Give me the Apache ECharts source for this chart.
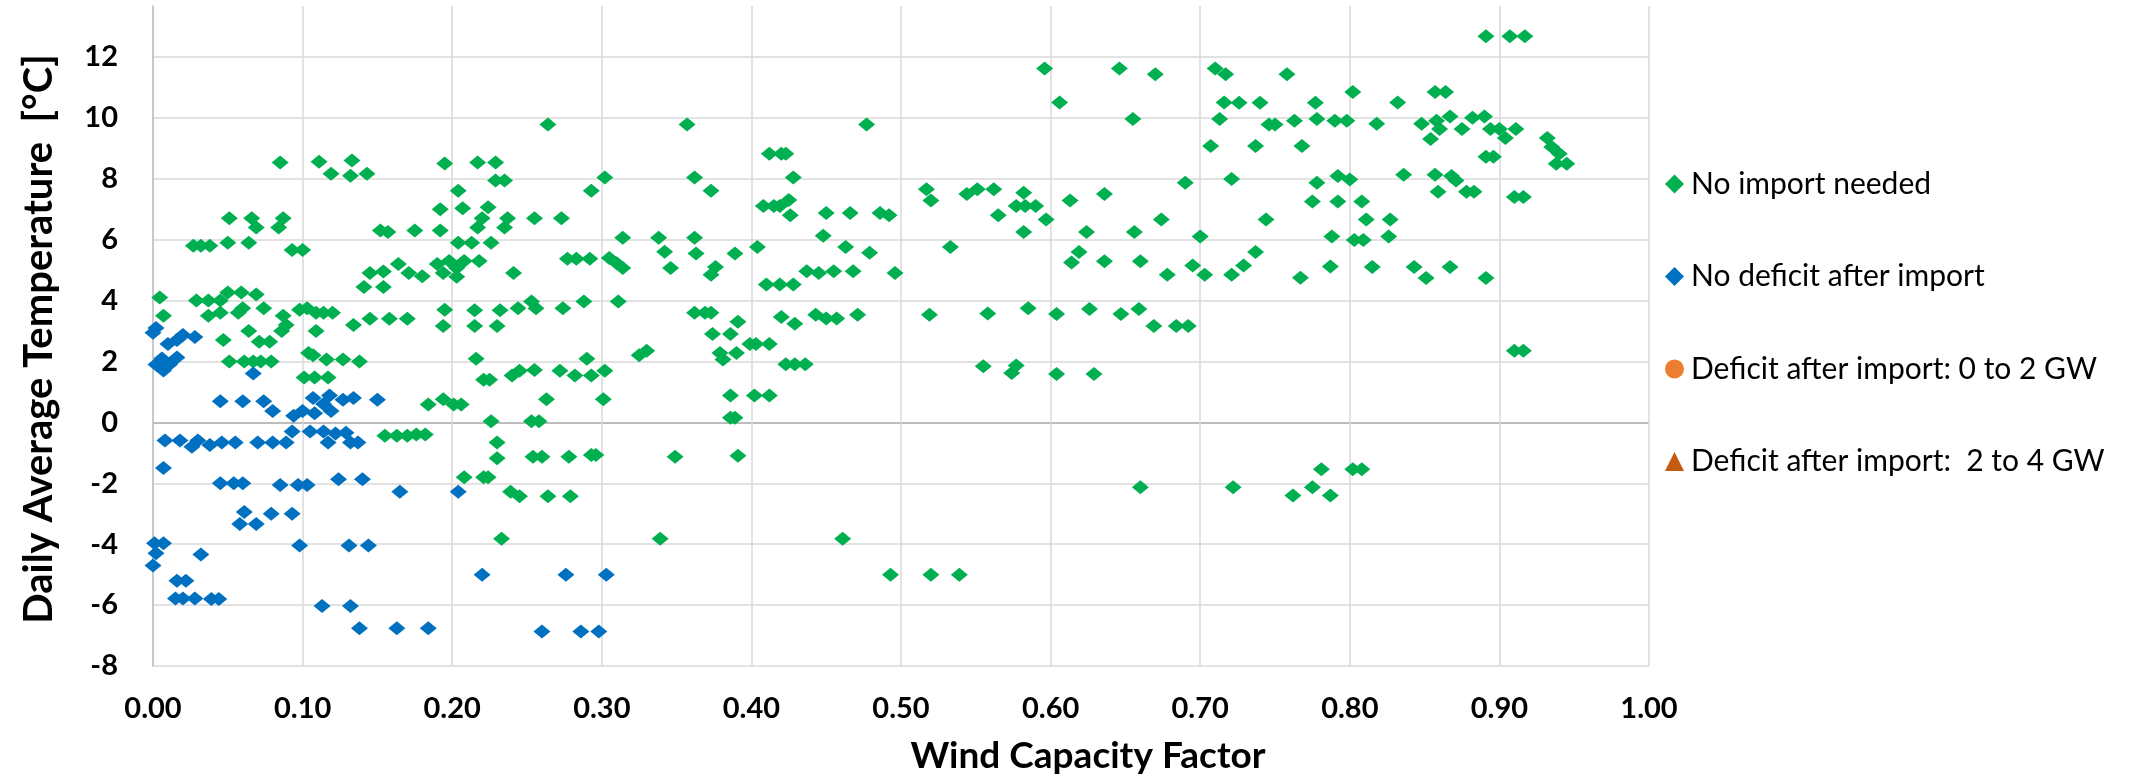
<!DOCTYPE html>
<html>
<head>
<meta charset="utf-8">
<script src="https://cdn.jsdelivr.net/npm/echarts@6/dist/echarts.min.js"></script>
<style>
html,body{margin:0;padding:0;background:#fff;}
#chart{width:2141px;height:775px;}
</style>
</head>
<body>
<div id="chart"></div>
<script>
// ---- data (x = wind capacity factor, y = daily average temperature) ----
const seriesNames = ['No import needed', 'No deficit after import', 'Deficit after import: 0 to 2 GW', 'Deficit after import:  2 to 4 GW'];
const xTickLabels = ['0.00','0.10','0.20','0.30','0.40','0.50','0.60','0.70','0.80','0.90','1.00'];
const yTickLabels = ['-8','-6','-4','-2','0','2','4','6','8','10','12'];

const noImportNeeded = [
[0.085,8.53],[0.111,8.56],[0.119,8.16],[0.133,8.6],[0.132,8.1],[0.143,8.16],[0.195,8.5],
[0.051,6.7],[0.066,6.7],[0.069,6.4],[0.087,6.7],[0.084,6.4],[0.064,5.9],[0.027,5.8],[0.032,5.8],[0.038,5.8],[0.050,5.9],[0.093,5.66],[0.100,5.66],
[0.152,6.3],[0.157,6.25],[0.175,6.3],[0.192,7.0],[0.192,6.3],
[0.145,4.9],[0.154,4.95],[0.164,5.2],[0.171,4.9],[0.180,4.8],[0.141,4.44],[0.154,4.44],[0.190,5.2],[0.194,4.9],
[0.0045,4.1],[0.007,3.5],[0.029,4.0],[0.037,4.0],[0.045,4.0],[0.050,4.26],[0.059,4.26],[0.069,4.2],
[0.037,3.5],[0.045,3.6],[0.057,3.6],[0.060,3.75],[0.074,3.75],[0.087,3.5],[0.086,3.0],[0.089,3.2],[0.064,3.0],[0.047,2.7],[0.071,2.65],[0.078,2.65],
[0.098,3.7],[0.103,3.75],[0.109,3.6],[0.109,3.0],[0.114,3.6],[0.120,3.6],[0.134,3.2],[0.145,3.4],[0.158,3.4],[0.170,3.4],[0.195,3.7],[0.194,3.16],
[0.051,2.0],[0.061,2.0],[0.067,2.0],[0.072,2.0],[0.079,2.0],[0.104,2.28],[0.107,2.2],[0.116,2.06],[0.127,2.06],[0.138,2.0],
[0.101,1.47],[0.108,1.47],[0.117,1.47],[0.184,0.59],[0.194,0.76],
[0.155,-0.44],[0.163,-0.44],[0.170,-0.44],[0.176,-0.4],[0.182,-0.4],
[0.264,9.78],[0.357,9.78],[0.217,8.53],[0.229,8.53],[0.204,7.6],[0.229,7.94],[0.235,7.94],[0.302,8.04],[0.293,7.6],[0.362,8.04],[0.373,7.6],
[0.207,7.03],[0.224,7.06],[0.220,6.7],[0.217,6.4],[0.237,6.7],[0.235,6.4],[0.255,6.7],[0.273,6.7],
[0.204,5.9],[0.213,5.9],[0.226,5.9],[0.314,6.06],[0.338,6.06],[0.362,6.06],[0.342,5.6],[0.363,5.54],[0.389,5.54],[0.346,5.07],[0.376,5.1],[0.373,4.85],
[0.198,5.3],[0.203,5.07],[0.203,4.78],[0.208,5.3],[0.218,5.3],[0.241,4.9],[0.277,5.37],[0.283,5.37],[0.292,5.37],[0.305,5.4],[0.310,5.22],[0.314,5.07],
[0.215,3.68],[0.215,3.16],[0.232,3.68],[0.230,3.16],[0.244,3.75],[0.253,3.97],[0.256,3.75],[0.274,3.75],[0.288,3.97],[0.311,3.97],
[0.362,3.6],[0.369,3.6],[0.373,3.6],[0.374,2.9],[0.386,2.9],[0.391,3.3],[0.379,2.28],[0.381,2.06],[0.390,2.28],
[0.216,2.09],[0.221,1.4],[0.225,1.4],[0.240,1.54],[0.245,1.69],[0.255,1.72],[0.272,1.69],[0.282,1.54],[0.290,2.09],[0.293,1.54],[0.302,1.69],[0.325,2.2],[0.330,2.35],
[0.201,0.59],[0.206,0.59],[0.263,0.76],[0.301,0.76],[0.386,0.88],
[0.226,0.04],[0.253,0.04],[0.258,0.04],[0.386,0.15],[0.389,0.15],
[0.230,-0.66],[0.230,-1.18],[0.254,-1.13],[0.260,-1.13],[0.278,-1.13],[0.293,-1.07],[0.296,-1.07],[0.349,-1.13],[0.391,-1.1],
[0.208,-1.8],[0.221,-1.8],[0.224,-1.8],[0.239,-2.28],[0.245,-2.43],[0.264,-2.43],[0.279,-2.43],[0.233,-3.82],[0.339,-3.82],
[0.477,9.78],[0.412,8.82],[0.420,8.82],[0.423,8.82],[0.428,8.04],[0.408,7.1],[0.415,7.1],[0.419,7.1],[0.425,7.3],[0.426,6.8],[0.450,6.87],[0.466,6.87],[0.486,6.87],[0.492,6.8],[0.448,6.13],
[0.404,5.76],[0.463,5.76],[0.479,5.57],[0.410,4.53],[0.419,4.53],[0.428,4.53],[0.437,4.96],[0.445,4.9],[0.455,4.96],[0.468,4.96],[0.496,4.9],
[0.399,2.57],[0.403,2.57],[0.412,2.57],
[0.420,3.46],[0.429,3.24],[0.443,3.53],[0.450,3.41],[0.457,3.41],[0.471,3.53],
[0.423,1.91],[0.429,1.91],[0.436,1.91],[0.402,0.88],[0.412,0.88],
[0.461,-3.82],[0.493,-5.0],[0.520,-5.0],[0.539,-5.0],
[0.517,7.65],[0.520,7.28],[0.544,7.5],[0.551,7.65],[0.562,7.65],[0.565,6.8],[0.577,7.1],[0.582,7.54],[0.583,7.1],[0.582,6.25],
[0.533,5.76],[0.519,3.53],[0.558,3.57],[0.585,3.75],[0.555,1.84],[0.574,1.62],[0.577,1.87],
[0.596,11.62],[0.606,10.5],[0.646,11.62],[0.670,11.43],[0.655,9.96],[0.710,11.62],[0.717,11.43],[0.758,11.43],[0.716,10.5],[0.726,10.49],[0.740,10.49],[0.777,10.49],[0.713,9.96],[0.746,9.78],[0.750,9.78],[0.763,9.9],[0.778,9.96],[0.707,9.07],[0.737,9.07],[0.768,9.07],
[0.721,7.99],[0.690,7.87],[0.778,7.87],[0.775,7.25],[0.590,7.1],[0.597,6.66],[0.613,7.28],[0.636,7.5],[0.624,6.25],[0.656,6.25],[0.674,6.66],[0.700,6.1],[0.744,6.66],
[0.614,5.25],[0.619,5.59],[0.636,5.29],[0.660,5.29],[0.678,4.85],[0.695,5.15],[0.703,4.85],[0.721,4.85],[0.729,5.15],[0.737,5.59],[0.767,4.75],
[0.604,3.56],[0.626,3.72],[0.647,3.56],[0.659,3.72],[0.669,3.16],[0.684,3.16],[0.692,3.16],[0.604,1.59],[0.629,1.59],
[0.660,-2.13],[0.722,-2.13],[0.762,-2.4],[0.775,-2.13],[0.781,-1.54],
[0.891,12.68],[0.907,12.68],[0.917,12.68],[0.802,10.85],[0.832,10.5],[0.857,10.85],[0.864,10.85],
[0.790,9.9],[0.798,9.9],[0.818,9.8],[0.848,9.8],[0.858,9.9],[0.860,9.63],[0.867,10.04],[0.854,9.3],[0.875,9.63],[0.882,10.0],[0.890,10.04],[0.894,9.63],[0.900,9.63],[0.904,9.34],[0.911,9.63],[0.891,8.72],[0.896,8.72],
[0.932,9.34],[0.935,9.04],[0.940,8.82],[0.938,8.49],[0.945,8.49],
[0.792,8.09],[0.800,7.97],[0.836,8.13],[0.857,8.13],[0.868,8.09],[0.871,7.94],[0.859,7.57],[0.878,7.57],[0.883,7.57],[0.910,7.4],[0.916,7.4],
[0.792,7.25],[0.808,7.25],[0.811,6.66],[0.827,6.66],[0.788,6.1],[0.803,5.99],[0.809,5.99],[0.826,6.1],
[0.787,5.12],[0.815,5.1],[0.843,5.1],[0.851,4.74],[0.867,5.1],[0.891,4.74],
[0.910,2.35],[0.916,2.35],[0.787,-2.4],[0.802,-1.54],[0.808,-1.54]
];

const noDeficitAfterImport = [
[0.002,3.1],[0.0,2.94],[0.010,2.57],[0.016,2.7],[0.020,2.87],[0.028,2.8],[0.002,1.9],[0.007,1.7],[0.011,1.9],[0.016,2.13],[0.006,2.1],[0.067,1.6],
[0.045,0.69],[0.060,0.69],[0.074,0.69],[0.080,0.37],[0.094,0.22],[0.100,0.37],[0.107,0.8],[0.108,0.3],[0.114,0.6],[0.118,0.88],[0.119,0.37],[0.127,0.74],[0.134,0.8],[0.150,0.74],
[0.008,-0.6],[0.018,-0.6],[0.026,-0.8],[0.030,-0.6],[0.038,-0.74],[0.046,-0.66],[0.055,-0.66],[0.070,-0.66],[0.080,-0.66],[0.089,-0.66],[0.093,-0.3],[0.105,-0.3],[0.114,-0.3],[0.117,-0.66],[0.122,-0.37],[0.129,-0.34],[0.132,-0.66],[0.137,-0.66],
[0.007,-1.5],[0.045,-2.0],[0.054,-2.0],[0.060,-2.0],[0.085,-2.06],[0.097,-2.06],[0.103,-2.06],[0.124,-1.87],[0.140,-1.87],[0.165,-2.28],
[0.061,-2.94],[0.058,-3.34],[0.069,-3.34],[0.079,-3.0],[0.093,-3.0],
[0.001,-3.97],[0.007,-3.97],[0.002,-4.3],[0.0,-4.7],[0.032,-4.34],[0.098,-4.04],[0.131,-4.04],[0.144,-4.04],
[0.016,-5.2],[0.022,-5.2],[0.015,-5.78],[0.020,-5.78],[0.028,-5.78],[0.039,-5.8],[0.044,-5.8],[0.113,-6.03],[0.132,-6.03],[0.138,-6.76],[0.163,-6.76],[0.184,-6.76],
[0.204,-2.28],[0.220,-5.0],[0.276,-5.0],[0.303,-5.0],[0.260,-6.87],[0.286,-6.87],[0.298,-6.87]
];
const deficit0to2 = [];
const deficit2to4 = [];

// ---- chart ----
const FONT = 'Lato, "Open Sans", sans-serif';
const grid = '#d9d9d9';
const yLineColors = [grid, grid, grid, grid, '#a6a6a6', grid, grid, grid, grid, grid, grid, 'rgba(0,0,0,0)'];

const chart = echarts.init(document.getElementById('chart'), null, {renderer: 'canvas'});
chart.setOption({
  animation: false,
  backgroundColor: '#ffffff',
  grid: {left: 153, right: 492, top: 6, bottom: 109, containLabel: false},
  xAxis: {
    type: 'value', min: 0, max: 1, interval: 0.1,
    axisLine: {show: false}, axisTick: {show: false},
    splitLine: {show: true, lineStyle: {color: grid, width: 1.5}},
    axisLabel: {
      margin: 28, color: '#000', fontFamily: FONT, fontWeight: 'bold', fontSize: 29,
      formatter: v => { const i = Math.round(v * 10); return (Math.abs(v * 10 - i) < 1e-6) ? xTickLabels[i] : ''; }
    }
  },
  yAxis: {
    type: 'value', min: -8, max: 13.67, interval: 2,
    axisLine: {show: true, lineStyle: {color: '#bfbfbf', width: 1.5}},
    axisTick: {show: false},
    splitLine: {show: true, showMaxLine: false, lineStyle: {color: yLineColors, width: 1.5}},
    axisLabel: {
      margin: 35, color: '#000', fontFamily: FONT, fontWeight: 'bold', fontSize: 29,
      formatter: v => { const k = (v + 8) / 2; const i = Math.round(k); return (Math.abs(k - i) < 1e-6 && i < yTickLabels.length) ? yTickLabels[i] : ''; }
    }
  },
  legend: {
    orient: 'vertical', left: 1660, top: 163, itemGap: 60.5,
    itemWidth: 19, itemHeight: 19, itemStyle: {borderWidth: 0},
    textStyle: {fontFamily: FONT, fontSize: 30, color: '#000', lineHeight: 32, padding: [0, 0, 0, 2]},
    data: [
      {name: seriesNames[0], icon: 'diamond'},
      {name: seriesNames[1], icon: 'diamond'},
      {name: seriesNames[2], icon: 'circle'},
      {name: seriesNames[3], icon: 'triangle'}
    ]
  },
  graphic: [
    {type: 'text', x: 39, y: 339, rotation: Math.PI / 2,
     style: {text: 'Daily Average Temperature  [°C]', fontFamily: FONT, fontWeight: 'bold', fontSize: 40, fill: '#000', textAlign: 'center', textVerticalAlign: 'middle'}},
    {type: 'text', x: 1088, y: 756,
     style: {text: 'Wind Capacity Factor', fontFamily: FONT, fontWeight: 'bold', fontSize: 37, fill: '#000', textAlign: 'center', textVerticalAlign: 'middle'}}
  ],
  series: [
    {name: seriesNames[0], type: 'scatter', symbol: 'diamond', symbolSize: [17, 14], itemStyle: {color: '#00B050', opacity: 1}, data: noImportNeeded},
    {name: seriesNames[1], type: 'scatter', symbol: 'diamond', symbolSize: [17, 14], itemStyle: {color: '#0070C0', opacity: 1}, data: noDeficitAfterImport},
    {name: seriesNames[2], type: 'scatter', symbol: 'circle', symbolSize: 16, itemStyle: {color: '#ED7D31', opacity: 1}, data: deficit0to2},
    {name: seriesNames[3], type: 'scatter', symbol: 'triangle', symbolSize: 16, itemStyle: {color: '#C55A11', opacity: 1}, data: deficit2to4}
  ]
});
</script>
</body>
</html>
